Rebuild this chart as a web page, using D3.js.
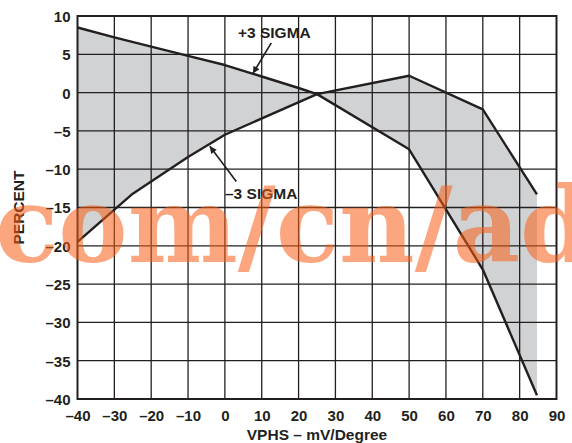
<!DOCTYPE html>
<html>
<head>
<meta charset="utf-8">
<script src="https://cdn.jsdelivr.net/npm/d3@7"></script>
<style>
  html, body { margin: 0; padding: 0; background: #fff; }
  svg { display: block; }
  text { font-family: "Liberation Sans", Arial, Helvetica, sans-serif; font-weight: bold; }
</style>
</head>
<body>
<svg id="chart" width="572" height="443"></svg>
<script>
// Percent change vs. VPHS, +3 sigma and -3 sigma limits
const plus3X  = [-40, -30, -20, -10, 0, 10, 20, 25, 50, 70, 84.7];
const plus3Y  = [8.5, 7.2, 6.0, 4.8, 3.6, 2.1, 0.6, -0.2, -7.4, -23.1, -39.5];
const minus3X = [-40, -25, -10, 0, 25, 50, 70, 84.7];
const minus3Y = [-19.5, -13.2, -8.4, -5.5, -0.2, 2.2, -2.2, -13.3];

const xTicks = [-40, -30, -20, -10, 0, 10, 20, 30, 40, 50, 60, 70, 80, 90];
const yTicks = [10, 5, 0, -5, -10, -15, -20, -25, -30, -35, -40];

const fmt = v => (v < 0 ? "\u2013" + Math.abs(v) : String(v));

const ink = "#231f20";
const svg = d3.select("#chart");
const m = { left: 77.5, right: 556.5, top: 16, bottom: 399 };

const x = d3.scaleLinear().domain([-40, 90]).range([m.left, m.right]);
const y = d3.scaleLinear().domain([-40, 10]).range([m.bottom, m.top]);

const plus3 = plus3X.map((v, i) => [v, plus3Y[i]]);
const minus3 = minus3X.map((v, i) => [v, minus3Y[i]]);

// shaded band between the two limit curves
const band = plus3.concat(minus3.slice().reverse());
svg.append("path")
  .attr("d", d3.line().x(d => x(d[0])).y(d => y(d[1]))(band) + "Z")
  .attr("fill", "#d1d2d4")
  .attr("stroke", "none");

// grid
const grid = svg.append("g").attr("stroke", ink).attr("stroke-width", 1.3);
grid.selectAll("line.v").data(xTicks.slice(1, -1)).join("line")
  .attr("x1", d => x(d)).attr("x2", d => x(d))
  .attr("y1", m.top).attr("y2", m.bottom);
grid.selectAll("line.h").data(yTicks.slice(1, -1)).join("line")
  .attr("y1", d => y(d)).attr("y2", d => y(d))
  .attr("x1", m.left).attr("x2", m.right);

// frame
svg.append("rect")
  .attr("x", m.left).attr("y", m.top)
  .attr("width", m.right - m.left).attr("height", m.bottom - m.top)
  .attr("fill", "none").attr("stroke", ink).attr("stroke-width", 2);

// axes (labels only, grid drawn above)
const xAxis = d3.axisBottom(x).tickValues(xTicks).tickFormat(fmt).tickSize(0).tickPadding(0);
const gx = svg.append("g").attr("transform", `translate(0,${m.bottom})`).call(xAxis);
gx.select(".domain").remove();
gx.selectAll("text").attr("dy", null).attr("y", 21.5)
  .style("font-size", "15px").style("font-family", null).style("fill", ink);

const yAxis = d3.axisLeft(y).tickValues(yTicks).tickFormat(fmt).tickSize(0).tickPadding(0);
const gy = svg.append("g").attr("transform", `translate(${m.left - 7},0)`).call(yAxis);
gy.select(".domain").remove();
gy.selectAll("text").attr("dy", "0.36em").attr("x", 0)
  .style("font-size", "15px").style("font-family", null).style("fill", ink);

// limit curves
const line = d3.line().x(d => x(d[0])).y(d => y(d[1]));
svg.append("path").attr("d", line(plus3))
  .attr("fill", "none").attr("stroke", ink).attr("stroke-width", 2.4).attr("stroke-linejoin", "round");
svg.append("path").attr("d", line(minus3))
  .attr("fill", "none").attr("stroke", ink).attr("stroke-width", 2.4).attr("stroke-linejoin", "round");

// axis titles
svg.append("text").attr("x", (m.left + m.right) / 2).attr("y", 439.5)
  .attr("text-anchor", "middle").style("font-size", "15.5px").style("fill", ink)
  .text("VPHS \u2013 mV/Degree");
svg.append("text")
  .attr("transform", `translate(24,${(m.top + m.bottom) / 2}) rotate(-90)`)
  .attr("text-anchor", "middle").style("font-size", "15.5px").style("fill", ink)
  .text("PERCENT");

// callouts
const defs = svg.append("defs");
defs.append("marker").attr("id", "head")
  .attr("viewBox", "0 0 10 10").attr("refX", 10).attr("refY", 5)
  .attr("markerWidth", 10).attr("markerHeight", 7).attr("markerUnits", "userSpaceOnUse")
  .attr("orient", "auto")
  .append("path").attr("d", "M0,0 L10,5 L0,10 Z").attr("fill", ink);

const callouts = [
  { label: "+3 SIGMA", tx: 238, ty: 38.3, from: [12.6, 6.5], to: [7.6, 2.5] },
  { label: "\u20133 SIGMA", tx: 225, ty: 199, from: [3.1, -11.6], to: [-4.1, -7.0] }
];
callouts.forEach(c => {
  svg.append("text").attr("x", c.tx).attr("y", c.ty)
    .style("font-size", "15.5px").style("fill", ink).text(c.label);
  svg.append("line")
    .attr("x1", x(c.from[0])).attr("y1", y(c.from[1]))
    .attr("x2", x(c.to[0])).attr("y2", y(c.to[1]))
    .attr("stroke", ink).attr("stroke-width", 1.6)
    .attr("marker-end", "url(#head)");
});

// site watermark
svg.append("text")
  .attr("x", -5).attr("y", 262)
  .style("font-family", "'DejaVu Serif', 'Liberation Serif', serif")
  .style("font-size", "104px").style("font-weight", "bold")
  .style("fill", "rgb(247,92,20)").style("fill-opacity", 0.55)
  .text("com/cn/ad");
</script>
</body>
</html>
